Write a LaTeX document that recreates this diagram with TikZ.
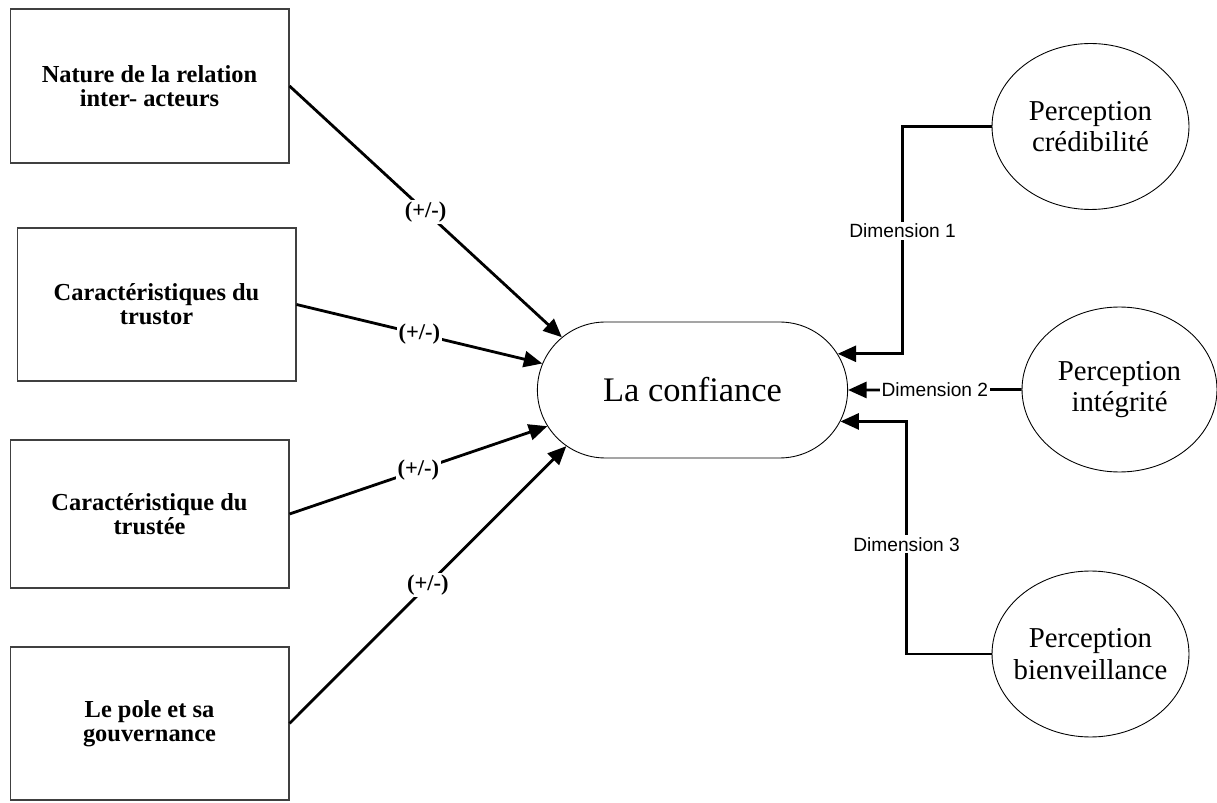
\documentclass[tikz,border=0pt]{standalone}
\usepackage{fontspec}
\setmainfont{Liberation Serif}
\setsansfont{Liberation Sans}
\usetikzlibrary{arrows.meta,shapes.misc,shapes.geometric}

\begin{document}
\begin{tikzpicture}[x=0.02cm,y=-0.02cm,
	facteur/.style={draw=black!75,line width=0.6pt,minimum width=5.58cm,align=center,
		font=\bfseries\fontsize{13.9pt}{13.6pt}\selectfont},
	percep/.style={draw,ellipse,line width=0.5pt,inner xsep=-0.5cm,inner ysep=0pt,
		minimum width=3.94cm,minimum height=3.32cm,align=center,
		font=\fontsize{16.4pt}{18pt}\selectfont},
	fleche/.style={line width=1.6pt,-{Triangle[length=0.37cm,width=0.32cm]}},
	signe/.style={fill=white,inner sep=1pt,font=\bfseries\fontsize{12.8pt}{14pt}\selectfont},
	dimlbl/.style={fill=white,inner sep=1pt,font=\sffamily\fontsize{10.9pt}{13pt}\selectfont}]
				\useasboundingbox (0,0) rectangle (1217,803);
				%
				\node[facteur,minimum height=3.08cm] (nature) at (149.5,86) {Nature de la relation\\inter- acteurs};
				\node[facteur,minimum height=3.06cm] (trustor) at (156.5,304.5) {Caractéristiques du\\trustor};
				\node[facteur,minimum height=2.96cm] (trustee) at (149.5,514) {Caractéristique du\\trustée};
				\node[facteur,minimum height=3.06cm] (pole) at (149.5,723.5) {Le pole et sa\\gouvernance};
				%
				\node[draw,rounded rectangle,line width=0.5pt,minimum width=6.44cm,minimum height=2.72cm,
					font=\fontsize{19.6pt}{22pt}\selectfont] (conf) at (692.5,390) {La confiance};
				%
				\node[percep] (cred) at (1090.5,126.5) {Perception\\crédibilité};
				\node[percep,minimum width=3.9cm,minimum height=3.3cm] (integ) at (1119.5,389.5) {Perception\\intégrité};
				\node[percep] (bienv) at (1090.5,654) {Perception\\bienveillance};
				%
				\draw[fleche] (nature.east) -- node[signe] {(+/-)} (conf.158.9);
				\draw[fleche] (trustor.east) -- node[signe] {(+/-)} (conf.170.1);
				\draw[fleche] (trustee.east) -- node[signe] {(+/-)} (conf.194.7);
				\draw[fleche] (pole.east) -- node[signe] {(+/-)} (conf.204.8);
				%
				\draw[fleche] (cred.west) -- ++(-89,0) |- node[dimlbl,pos=0.23] {Dimension 1} (conf.14.4);
				\draw[fleche] (integ.west) -- node[dimlbl] {Dimension 2} (conf.east);
				\draw[fleche] (bienv.west) -- ++(-85,0) |- node[dimlbl,pos=0.236] {Dimension 3} (conf.-12.65);
				%
\end{tikzpicture}
\end{document}
